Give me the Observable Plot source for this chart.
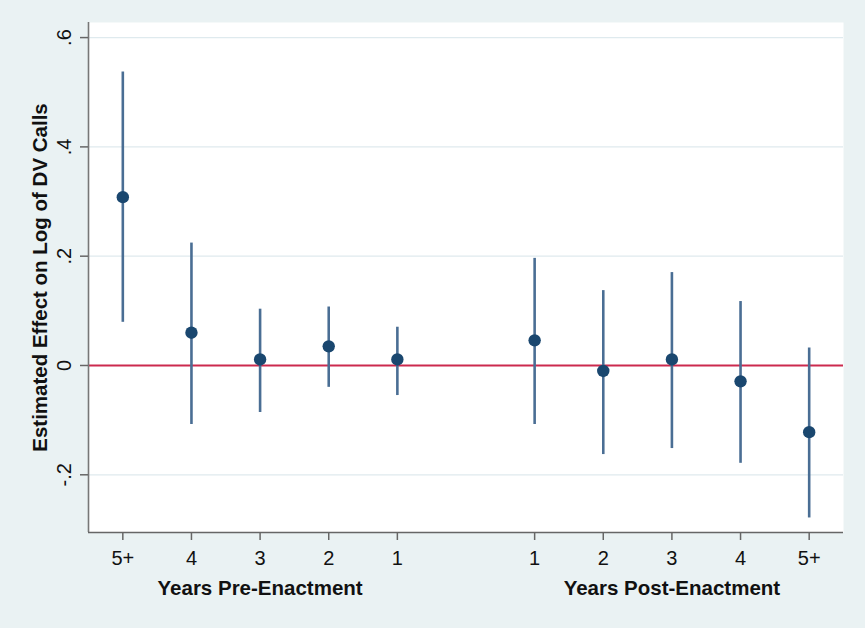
<!DOCTYPE html>
<html><head><meta charset="utf-8">
<script src="https://cdn.jsdelivr.net/npm/d3@7"></script>
<script src="https://cdn.jsdelivr.net/npm/@observablehq/plot@0.6"></script>
<style>
html,body{margin:0;padding:0;background:#eaf2f3;}
#chart{width:865px;height:628px;}
</style></head><body><div id="chart"></div>
<script>
const preLabels = ["5+","4","3","2","1"];
const preEst = [0.308, 0.060, 0.011, 0.035, 0.011];
const preLo  = [0.079, -0.108, -0.086, -0.040, -0.055];
const preHi  = [0.537, 0.224, 0.103, 0.107, 0.070];
const postLabels = ["1","2","3","4","5+"];
const postEst = [0.046, -0.010, 0.011, -0.029, -0.122];
const postLo  = [-0.108, -0.163, -0.152, -0.179, -0.279];
const postHi  = [0.196, 0.137, 0.170, 0.117, 0.032];
const yTicks = [-0.2, 0, 0.2, 0.4, 0.6];
const yTickLabels = ["-.2", "0", ".2", ".4", ".6"];
const groupTitles = ["Years Pre-Enactment", "Years Post-Enactment"];
const yTitle = "Estimated Effect on Log of DV Calls";
const yDomain = [-0.3056, 0.6276];

const rows = [
  ...preLabels.map((label, i) => ({group: 0, label, pos: i, est: preEst[i], lo: preLo[i], hi: preHi[i]})),
  ...postLabels.map((label, i) => ({group: 1, label, pos: preLabels.length + 1 + i, est: postEst[i], lo: postLo[i], hi: postHi[i]}))
];
const positions = rows.map(d => d.pos);
const xDomain = [d3.min(positions) - 0.5, d3.max(positions) + 0.5];
const labelByPos = new Map(rows.map(d => [d.pos, d.label]));
const yLabelByTick = new Map(yTicks.map((t, i) => [t, yTickLabels[i]]));
const titleRows = groupTitles.map((t, g) => ({t, x: d3.mean(rows.filter(d => d.group === g), d => d.pos)}));

const chart = Plot.plot({
  width: 865,
  height: 628,
  marginLeft: 88,
  marginRight: 22,
  marginTop: 22,
  marginBottom: 96,
  style: {background: "transparent", fontFamily: "'Liberation Sans', Arial, sans-serif", color: "#111"},
  x: {type: "linear", domain: xDomain},
  y: {domain: yDomain},
  marks: [
    Plot.frame({fill: "white", stroke: "none"}),
    Plot.gridY(yTicks, {stroke: "#dfeaee", strokeOpacity: 1, strokeWidth: 1.2}),
    Plot.ruleY([0], {stroke: "#cc2a4e", strokeWidth: 2}),
    Plot.ruleX([xDomain[0]], {stroke: "#777", strokeWidth: 1.6}),
    Plot.ruleY([yDomain[0]], {stroke: "#666", strokeWidth: 1.6}),
    Plot.ruleX(rows, {x: "pos", y1: "lo", y2: "hi", stroke: "#4a6e94", strokeWidth: 2.6}),
    Plot.dot(rows, {x: "pos", y: "est", r: 6.2, fill: "#1a476f", stroke: "none"}),
    Plot.axisY({ticks: yTicks, tickFormat: d => yLabelByTick.get(d), tickRotate: -90, tickSize: 8, tickPadding: 10, stroke: "#666", strokeWidth: 1.5, fontSize: 20, label: null}),
    Plot.axisX({ticks: positions, tickFormat: d => labelByPos.get(d), tickSize: 8, tickPadding: 10, stroke: "#666", strokeWidth: 1.5, fontSize: 20, label: null}),
    Plot.text(titleRows, {x: "x", text: "t", frameAnchor: "bottom", dy: 62, lineAnchor: "bottom", fontWeight: "bold", fontSize: 20.5, fill: "#111"}),
    Plot.text([yTitle], {text: d => d, frameAnchor: "left", dx: -42, rotate: -90, textAnchor: "middle", lineAnchor: "bottom", fontWeight: "bold", fontSize: 20.5, fill: "#111"})
  ]
});
document.getElementById("chart").appendChild(chart);
</script>
</body></html>
